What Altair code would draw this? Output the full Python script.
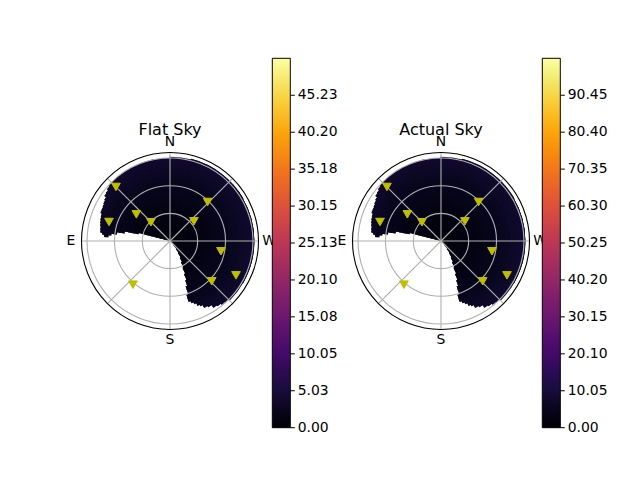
import altair as alt
import pandas as pd

# ---------------- data ----------------
panel_titles = ["Flat Sky", "Actual Sky"]
cbar_max = [50.26, 100.5]
cbar_ticks_flat = [0.00, 5.03, 10.05, 15.08, 20.10, 25.13, 30.15, 35.18, 40.20, 45.23]
cbar_ticks_actual = [0.00, 10.05, 20.10, 30.15, 40.20, 50.25, 60.30, 70.35, 80.40, 90.45]

# sky coverage: azimuth sectors (deg, N=0, E=90) and zenith-angle limits (deg)
sector_az0 = [0, 45, 47.5, 50, 52.5, 55, 57.5, 60, 62.5, 65, 67.5, 70, 72.5, 75, 77.5, 80, 82.5, 84,
              197, 199, 201, 203, 205, 207, 210, 213, 216, 219, 222, 225, 240, 300, 345]
sector_az1 = [45, 47.5, 50, 52.5, 55, 57.5, 60, 62.5, 65, 67.5, 70, 72.5, 75, 77.5, 80, 82.5, 84, 86,
              199, 201, 203, 205, 207, 210, 213, 216, 219, 222, 225, 240, 300, 345, 360]
sector_rin = [0, 0, 0, 0, 0, 0, 0, 0, 0, 0, 0, 0, 0, 35, 50, 58, 64, 67,
              61, 52, 46, 39, 32, 26, 21, 16, 11, 6, 2, 0, 0, 0, 0]
sector_rout = [90, 89.5, 88.5, 87, 85.5, 84, 83, 82, 81, 80.3, 79.6, 79, 78.3, 77.5, 76.5, 75.5, 74, 71.5,
               69, 71, 73.5, 76, 78, 80.5, 83, 85.5, 87.5, 89, 90, 90.5, 91.5, 92, 90.5]

# radial intensity (zenith-angle rings, 5 deg wide)
ring_edges = [0, 5, 10, 15, 20, 25, 30, 35, 40, 45, 50, 55, 60, 65, 70, 75, 80, 85, 90, 95]
ring_flat = [0.8, 0.9, 1.0, 1.1, 1.2, 1.35, 1.5, 1.65, 1.8, 2.0, 2.2, 2.4, 2.6, 2.8, 3.0, 3.3, 3.6, 3.9, 4.0]
ring_actual = [1.6, 1.8, 2.0, 2.2, 2.4, 2.7, 3.0, 3.3, 3.6, 4.0, 4.4, 4.8, 5.2, 5.6, 6.0, 6.6, 7.2, 7.8, 8.0]

# markers (azimuth deg, zenith angle deg)
marker_az = [45.0, 72.7, 51.6, 45.5, 316.0, 309.4, 258.6, 242.5, 226.0, 139.7]
marker_zen = [82.9, 69.3, 46.6, 29.0, 58.8, 33.6, 56.4, 80.7, 62.9, 62.1]

grid_zen = [30, 60, 90]
grid_az = [0, 45, 90, 135, 180, 225, 270, 315]
compass_lab = ["N", "E", "S", "W"]
compass_az = [0, 90, 180, 270]
frame_zen = [96]

# ---------------- layout (styles / positions) ----------------
RMAX = 96.0
RPX = 88.5
CENTERS = [(162.0, 233.0), (433.0, 233.0)]
CBAR_X = [264.3, 534.3]
CBAR_TOP = 50.3
CBAR_LEN = 369.4
CBAR_W = 18
FONT = "DejaVu Sans"
TWO_PI = 6.283185307179586

theta_scale = alt.Scale(domain=[0, 360], range=[0, TWO_PI])
rad_scale = alt.Scale(type="linear", domain=[0, RMAX], range=[0, RPX])


def xy_scales(cx, cy):
    xs = alt.Scale(domain=[-RMAX, RMAX], range=[cx - RPX, cx + RPX], nice=False, zero=False)
    ys = alt.Scale(domain=[-RMAX, RMAX], range=[cy + RPX, cy - RPX], nice=False, zero=False)
    return xs, ys


def heat_df(ring_vals):
    rows = []
    for a0, a1, rin, rout in zip(sector_az0, sector_az1, sector_rin, sector_rout):
        for i, v in enumerate(ring_vals):
            lo = max(rin, ring_edges[i])
            hi = min(rout, ring_edges[i + 1])
            if hi > lo:
                rows.append({"az0": a0, "az1": a1, "r0": lo, "r1": hi, "v": v,
                             "edge": 1 if hi >= rout else 0})
    return pd.DataFrame(rows)


def sector_df():
    return pd.DataFrame({"az0": sector_az0, "az1": sector_az1, "r0": sector_rin, "r1": sector_rout})


def panel(k, ring_vals, ticks, vmax):
    cx, cy = CENTERS[k]
    xs, ys = xy_scales(cx, cy)
    # tiny negative start keeps the "0.00" colorbar label centred on the bar's end
    cscale = alt.Scale(scheme="inferno", domain=[-0.001, vmax], nice=False, zero=False)

    # dark underlay of the covered sky (hides anti-aliasing seams between cells)
    under = alt.Chart(sector_df()).transform_calculate(
        t0="360 - datum.az1 - 0.6",
        t1="360 - datum.az0",
    ).mark_arc(color="#07061c", opacity=1, strokeWidth=0).encode(
        theta=alt.Theta("t0:Q", scale=theta_scale, stack=None),
        theta2="t1:Q",
        radius=alt.Radius("r1:Q", scale=rad_scale, stack=None),
        radius2="r0:Q",
        x=alt.value(cx),
        y=alt.value(cy),
    )

    heat = alt.Chart(heat_df(ring_vals)).transform_calculate(
        t0="360 - datum.az1 - 0.6",
        t1="360 - datum.az0",
        ro="datum.r1 + (datum.edge ? 0 : 1.5)",
    ).mark_arc(opacity=1, fillOpacity=1, strokeWidth=0).encode(
        theta=alt.Theta("t0:Q", scale=theta_scale, stack=None),
        theta2="t1:Q",
        radius=alt.Radius("ro:Q", scale=rad_scale, stack=None),
        radius2="r0:Q",
        color=alt.Color(
            "v:Q",
            scale=cscale,
            legend=alt.Legend(
                type="gradient",
                orient="none",
                legendX=CBAR_X[k],
                legendY=CBAR_TOP,
                direction="vertical",
                gradientLength=CBAR_LEN,
                gradientThickness=CBAR_W,
                gradientStrokeColor="black",
                gradientStrokeWidth=1,
                title=None,
                values=ticks,
                format=".2f",
                labelFont=FONT,
                labelFontSize=13.9,
                labelColor="black",
                labelOffset=7.4,
                labelBaseline="middle",
                labelOverlap=False,
                padding=0,
            ),
        ),
        x=alt.value(cx),
        y=alt.value(cy),
    )

    circles = alt.Chart(pd.DataFrame({"r": grid_zen})).mark_arc(
        theta=0, theta2=TWO_PI, fillOpacity=0, stroke="#b0b0b0", strokeWidth=1.1
    ).encode(
        radius=alt.Radius("r:Q", scale=rad_scale, stack=None),
        x=alt.value(cx),
        y=alt.value(cy),
    )

    spokes = alt.Chart(pd.DataFrame({"az": grid_az})).transform_calculate(
        zx="0", zy="0",
        ex=f"-{RMAX} * sin(datum.az * PI / 180)",
        ey=f"{RMAX} * cos(datum.az * PI / 180)",
    ).mark_rule(color="#b0b0b0", strokeWidth=1.1).encode(
        x=alt.X("zx:Q", scale=xs, axis=None),
        y=alt.Y("zy:Q", scale=ys, axis=None),
        x2="ex:Q",
        y2="ey:Q",
    )

    frame = alt.Chart(pd.DataFrame({"r": frame_zen})).mark_arc(
        theta=0, theta2=TWO_PI, fillOpacity=0, stroke="black", strokeWidth=1.1
    ).encode(
        radius=alt.Radius("r:Q", scale=rad_scale, stack=None),
        x=alt.value(cx),
        y=alt.value(cy),
    )

    pts = alt.Chart(pd.DataFrame({"az": marker_az, "zen": marker_zen})).transform_calculate(
        px="-datum.zen * sin(datum.az * PI / 180)",
        py="datum.zen * cos(datum.az * PI / 180)",
    ).mark_point(
        shape="triangle-down", filled=True, size=75, color="#bfbf00",
        stroke="#bfbf00", strokeWidth=1, opacity=1
    ).encode(
        x=alt.X("px:Q", scale=xs, axis=None),
        y=alt.Y("py:Q", scale=ys, axis=None),
    )

    comp = alt.Chart(pd.DataFrame({"lab": compass_lab, "az": compass_az})).transform_calculate(
        px="-107.5 * sin(datum.az * PI / 180)",
        py="107.5 * cos(datum.az * PI / 180)",
    ).mark_text(font=FONT, fontSize=13.9, color="black", align="center", baseline="middle").encode(
        x=alt.X("px:Q", scale=xs, axis=None),
        y=alt.Y("py:Q", scale=ys, axis=None),
        text="lab:N",
    )

    ttl = alt.Chart(pd.DataFrame({"t": [panel_titles[k]]})).transform_calculate(
        px="0", py="114.6"
    ).mark_text(font=FONT, fontSize=16, color="black", align="center", baseline="alphabetic").encode(
        x=alt.X("px:Q", scale=xs, axis=None),
        y=alt.Y("py:Q", scale=ys, axis=None),
        text="t:N",
    )

    cb_ticks = alt.Chart(pd.DataFrame({"t": ticks})).mark_rule(color="black", strokeWidth=1).encode(
        x=alt.value(CBAR_X[k] + CBAR_W),
        x2=alt.value(CBAR_X[k] + CBAR_W + 4.5),
        y=alt.Y("t:Q", scale=alt.Scale(domain=[-0.001, vmax], range=[CBAR_TOP + CBAR_LEN, CBAR_TOP],
                                        nice=False, zero=False), axis=None),
    )

    return [under, heat, circles, spokes, frame, pts, comp, ttl, cb_ticks]


layers = panel(0, ring_flat, cbar_ticks_flat, cbar_max[0]) + panel(1, ring_actual, cbar_ticks_actual, cbar_max[1])

chart = alt.layer(*layers).resolve_scale(
    x="independent", y="independent", color="independent"
).properties(
    width=624, height=464, autosize=alt.AutoSizeParams(type="none"), padding=0
).configure_view(stroke=None)

chart.save("out.html", embed_options={"renderer": "svg", "actions": False})
